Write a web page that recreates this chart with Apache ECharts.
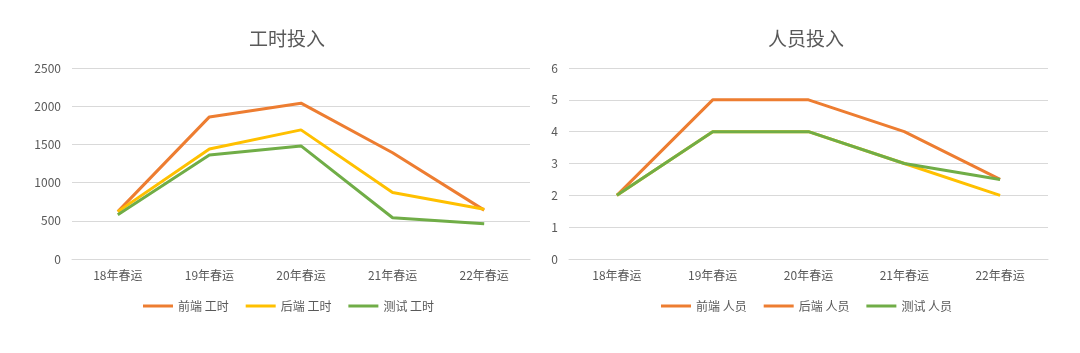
<!DOCTYPE html>
<html>
<head>
<meta charset="utf-8">
<script src="https://cdn.jsdelivr.net/npm/echarts@6/dist/echarts.min.js"></script>
<style>
html,body{margin:0;padding:0;background:#fff;}
#c{width:1080px;height:353px;}
</style>
</head>
<body>
<div id="c"></div>
<script>
const categories = ['18年春运','19年春运','20年春运','21年春运','22年春运'];
const hoursFront = [620, 1860, 2040, 1390, 640];
const hoursBack  = [620, 1440, 1690, 870, 650];
const hoursTest  = [580, 1360, 1480, 540, 460];
const staffFront = [2, 5, 5, 4, 2.5];
const staffBack  = [2, 4, 4, 3, 2];
const staffTest  = [2, 4, 4, 3, 2.5];
const hoursNames = ['前端 工时','后端 工时','测试 工时'];
const staffNames = ['前端 人员','后端 人员','测试 人员'];

const ORANGE = '#ED7D31', YELLOW = '#FFC000', GREEN = '#70AD47';
const TXT = '#595959', GRID = '#D9D9D9';
const FONT = '"Noto Sans CJK SC", "Noto Sans", sans-serif';

function xAxis(gi){
  return {type:'category', gridIndex:gi, data:categories, boundaryGap:true,
    axisLine:{show:true, lineStyle:{color:GRID, width:1}}, axisTick:{show:false},
    axisLabel:{color:TXT, fontSize:12, margin:10, fontFamily:FONT}};
}
function yAxis(gi, max, interval){
  return {type:'value', gridIndex:gi, min:0, max:max, interval:interval,
    axisLine:{show:false}, axisTick:{show:false},
    splitLine:{lineStyle:{color:GRID, width:1}},
    axisLabel:{color:TXT, fontSize:12, margin:11, fontFamily:FONT, formatter:function(v){return String(v);}}};
}
function line(name, data, color, gi){
  return {name:name, type:'line', xAxisIndex:gi, yAxisIndex:gi, data:data,
    showSymbol:false, symbol:'none', lineStyle:{color:color, width:3}, itemStyle:{color:color},
    emphasis:{disabled:true}, animation:false};
}
const legendCommon = {top:295, icon:'rect', itemWidth:30, itemHeight:3, itemGap:17,
  textStyle:{color:TXT, fontSize:12, fontFamily:FONT}, selectedMode:false};

const chart = echarts.init(document.getElementById('c'));
chart.setOption({
  animation:false,
  backgroundColor:'#fff',
  title:[
    {text:'工时投入', left:244, top:24, textStyle:{color:TXT, fontSize:19, fontWeight:'normal', fontFamily:FONT}},
    {text:'人员投入', left:763, top:24, textStyle:{color:TXT, fontSize:19, fontWeight:'normal', fontFamily:FONT}}
  ],
  legend:[
    Object.assign({}, legendCommon, {left:138, data:[
      {name:hoursNames[0], itemStyle:{color:ORANGE}},
      {name:hoursNames[1], itemStyle:{color:YELLOW}},
      {name:hoursNames[2], itemStyle:{color:GREEN}}]}),
    Object.assign({}, legendCommon, {left:656, data:[
      {name:staffNames[0], itemStyle:{color:ORANGE}},
      {name:staffNames[1], itemStyle:{color:ORANGE}},
      {name:staffNames[2], itemStyle:{color:GREEN}}]})
  ],
  grid:[
    {left:72, top:68, width:458, height:191},
    {left:569, top:68, width:479, height:191}
  ],
  xAxis:[xAxis(0), xAxis(1)],
  yAxis:[yAxis(0, 2500, 500), yAxis(1, 6, 1)],
  series:[
    line(hoursNames[0], hoursFront, ORANGE, 0),
    line(hoursNames[1], hoursBack, YELLOW, 0),
    line(hoursNames[2], hoursTest, GREEN, 0),
    line(staffNames[0], staffFront, ORANGE, 1),
    line(staffNames[1], staffBack, YELLOW, 1),
    line(staffNames[2], staffTest, GREEN, 1)
  ]
});
</script>
</body>
</html>
